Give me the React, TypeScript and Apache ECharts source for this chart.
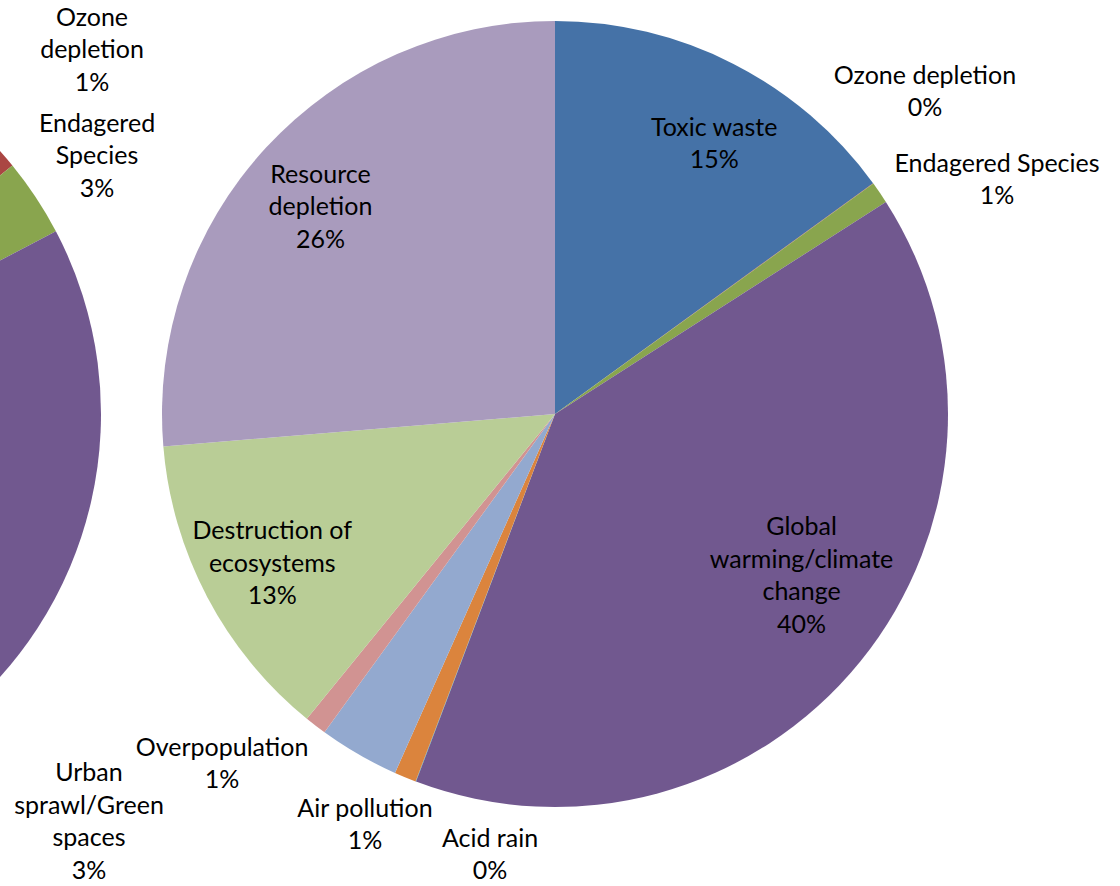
import React, { useEffect, useRef } from "react";
import * as echarts from "echarts";

// ---- data ----
const categories = [
  "Toxic waste",
  "Ozone depletion",
  "Endagered Species",
  "Global warming/climate change",
  "Acid rain",
  "Air pollution",
  "Urban sprawl/Green spaces",
  "Overpopulation",
  "Destruction of ecosystems",
  "Resource depletion",
];
// main (right) pie, percentages
const mainValues = [15.0, 0.02, 0.9, 39.8, 0.02, 0.9, 3.3, 0.9, 12.8, 26.3];
// left pie (only partly visible), percentages
const leftValues = [13.1, 1.0, 3.2, 45.0, 1.0, 3.0, 3.0, 2.0, 10.0, 18.7];

// label text as wrapped in the reference
const mainLabelNames = [
  "Toxic waste",
  "Ozone depletion",
  "Endagered Species",
  "Global\nwarming/climate\nchange",
  "Acid rain",
  "Air pollution",
  "Urban\nsprawl/Green\nspaces",
  "Overpopulation",
  "Destruction of\necosystems",
  "Resource\ndepletion",
];
const leftLabelNames = [
  "Toxic waste",
  "Ozone\ndepletion",
  "Endagered\nSpecies",
  "Global\nwarming/climate\nchange",
  "Acid rain",
  "Air pollution",
  "Urban\nsprawl/Green\nspaces",
  "Overpopulation",
  "Destruction of\necosystems",
  "Resource\ndepletion",
];

// ---- styles / layout ----
const colors = [
  "#4572A7",
  "#AA4643",
  "#89A54E",
  "#71588F",
  "#4198AF",
  "#DB843D",
  "#93A9CF",
  "#D19392",
  "#B9CD96",
  "#A99BBD",
];
const R = 393;
const mainCenter = [555, 414];
const leftCenter = [-292, 414];
const mainInside = [0, 3, 8, 9];
const mainNudge: Record<number, number[]> = { 0: [15, 11], 3: [0, -40], 8: [-2, 0], 9: [-1, 6] };
const mainAnchors: Record<number, number[]> = {
  1: [925, 90],
  2: [997, 178],
  4: [490, 853],
  5: [365, 823],
  6: [89, 820],
  7: [222, 762],
};
const leftAnchors: Record<number, number[]> = { 1: [92, 48], 2: [97, 154] };

const textStyle = {
  color: "#000",
  fontFamily: "Lato",
  fontSize: 25,
  lineHeight: 32.5,
  align: "center",
};

function layoutFn(anchors: Record<number, number[]>, nudge: Record<number, number[]>) {
  return (params: any) => {
    const a = anchors[params.dataIndex];
    if (a) return { x: a[0], y: a[1], align: "center", verticalAlign: "middle" };
    const n = nudge[params.dataIndex];
    if (n) return { dx: n[0], dy: n[1] };
    return {};
  };
}

function fmt(names: string[]) {
  return (p: any) => `${names[p.dataIndex]}\n${Math.round(p.percent)}%`;
}

export default function App() {
  const ref = useRef<HTMLDivElement>(null);
  useEffect(() => {
    if (!ref.current) return;
    const chart = echarts.init(ref.current, null, { renderer: "svg" });
    const leftData = leftValues.map((v, i) => ({
      value: v,
      name: categories[i],
      itemStyle: { color: colors[i] },
      label: { show: leftAnchors[i] !== undefined, position: "outside" },
    }));
    const mainData = mainValues.map((v, i) => ({
      value: v,
      name: categories[i],
      itemStyle: { color: colors[i] },
    }));
    const overlayData = mainValues.map((v, i) => ({
      value: v,
      name: categories[i],
      label: { show: true, position: mainInside.includes(i) ? "inside" : "outside" },
    }));
    chart.setOption({
      animation: false,
      backgroundColor: "#fff",
      series: [
        {
          type: "pie",
          center: leftCenter,
          radius: [0, R],
          startAngle: 90,
          clockwise: true,
          avoidLabelOverlap: false,
          silent: true,
          data: leftData,
          label: { ...textStyle, formatter: fmt(leftLabelNames) },
          labelLine: { show: false },
          labelLayout: layoutFn(leftAnchors, {}),
          itemStyle: { borderWidth: 0 },
        },
        {
          type: "pie",
          center: mainCenter,
          radius: [0, R],
          startAngle: 90,
          clockwise: true,
          silent: true,
          data: mainData,
          label: { show: false },
          labelLine: { show: false },
          itemStyle: { borderWidth: 0 },
        },
        {
          type: "pie",
          center: mainCenter,
          radius: [R * 0.6, R],
          startAngle: 90,
          clockwise: true,
          silent: true,
          avoidLabelOverlap: false,
          data: overlayData,
          itemStyle: { color: "rgba(0,0,0,0)", borderWidth: 0 },
          label: { ...textStyle, formatter: fmt(mainLabelNames) },
          labelLine: { show: false },
          labelLayout: layoutFn(mainAnchors, mainNudge),
        },
      ],
    });
    return () => chart.dispose();
  }, []);
  return (
    <div
      ref={ref}
      style={{ position: "fixed", left: 0, top: 0, width: 1120, height: 886, background: "#fff" }}
    />
  );
}
